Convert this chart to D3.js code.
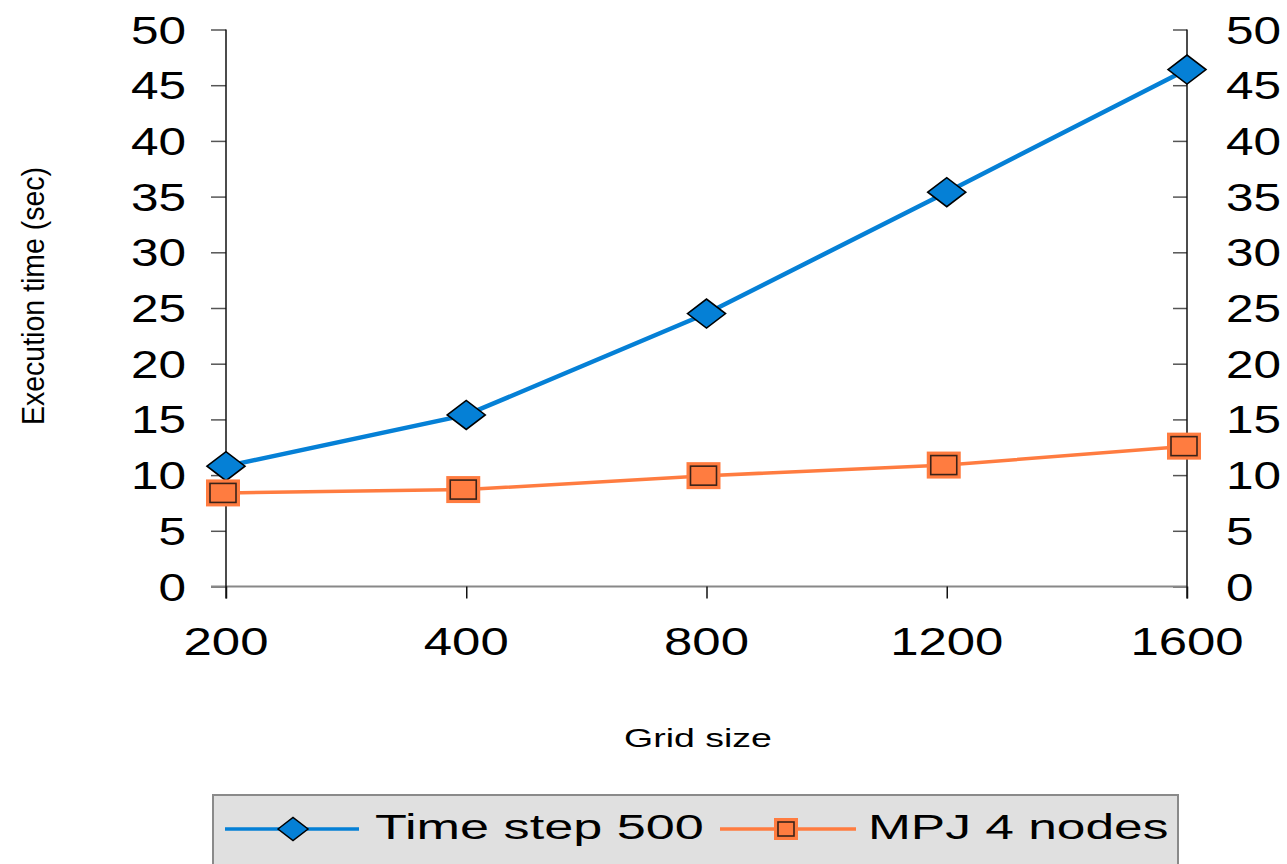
<!DOCTYPE html>
<html>
<head>
<meta charset="utf-8">
<script src="https://cdn.jsdelivr.net/npm/d3@7"></script>
<style>
  body { margin: 0; background: #fff; }
  text { font-family: "Liberation Sans", Arial, sans-serif; fill: #000; }
</style>
</head>
<body>
<script>
// grid sizes on the x axis
var gridSizes = ["200", "400", "800", "1200", "1600"];
// execution time (sec) for each series
var timeStep500 = [10.8, 15.4, 24.5, 35.4, 46.4];
var mpj4Nodes = [8.4, 8.7, 9.95, 10.9, 12.6];
var yTicks = [0, 5, 10, 15, 20, 25, 30, 35, 40, 45, 50];
var seriesNames = ["Time step 500", "MPJ 4 nodes"];

var width = 1287,
    height = 864;

var blue = "#0580d6",
    orange = "#ff7c40";

var svg = d3.select("body").append("svg")
    .attr("width", width)
    .attr("height", height)
    .style("display", "block");

var x = d3.scalePoint()
    .domain(gridSizes)
    .range([226, 1187]);

var y = d3.scaleLinear()
    .domain([0, 50])
    .range([586.5, 29.5]);

// left axis
var left = svg.append("g").attr("transform", "translate(226,0)")
    .call(d3.axisLeft(y).tickValues(yTicks).tickSize(15).tickFormat(""));
left.select(".domain").remove();
left.selectAll(".tick line").attr("stroke", "#555").attr("stroke-width", 1.5);

// right axis, ticks pointing inward
var right = svg.append("g").attr("transform", "translate(1187,0)")
    .call(d3.axisLeft(y).tickValues(yTicks).tickSize(14).tickFormat(""));
right.select(".domain").remove();
right.selectAll(".tick line").attr("stroke", "#555").attr("stroke-width", 1.5);

// baseline
svg.append("line")
    .attr("x1", 211).attr("x2", 1187)
    .attr("y1", y(0)).attr("y2", y(0))
    .attr("stroke", "#888").attr("stroke-width", 2);

// x ticks
var bottom = svg.append("g").attr("transform", "translate(0," + y(0) + ")")
    .call(d3.axisBottom(x).tickSize(12).tickFormat(""));
bottom.select(".domain").remove();
bottom.selectAll(".tick line").attr("stroke", "#111").attr("stroke-width", 1.5);

// vertical axis lines
[226, 1187].forEach(function(px) {
    svg.append("line")
        .attr("x1", px).attr("x2", px)
        .attr("y1", y(50)).attr("y2", y(0) + 12)
        .attr("stroke", "#111").attr("stroke-width", 1.5);
});

// tick labels (stretched like the original picture)
svg.selectAll(".ylab-l")
    .data(yTicks)
    .enter().append("text")
    .attr("class", "ylab-l")
    .attr("transform", function(d) { return "translate(186," + y(d) + ") scale(1.27,1)"; })
    .attr("dy", "0.36em")
    .attr("text-anchor", "end")
    .style("font-size", "39px")
    .text(function(d) { return d; });

svg.selectAll(".ylab-r")
    .data(yTicks)
    .enter().append("text")
    .attr("class", "ylab-r")
    .attr("transform", function(d) { return "translate(1226," + y(d) + ") scale(1.27,1)"; })
    .attr("dy", "0.36em")
    .attr("text-anchor", "start")
    .style("font-size", "39px")
    .text(function(d) { return d; });

svg.selectAll(".xlab")
    .data(gridSizes)
    .enter().append("text")
    .attr("class", "xlab")
    .attr("transform", function(d) { return "translate(" + x(d) + ",655) scale(1.34,1)"; })
    .attr("text-anchor", "middle")
    .style("font-size", "38px")
    .text(function(d) { return d; });

// axis titles
svg.append("text")
    .attr("transform", "translate(698,747) scale(1.5,1)")
    .attr("text-anchor", "middle")
    .style("font-size", "25px")
    .text("Grid size");

svg.append("text")
    .attr("transform", "translate(44,296) rotate(-90) scale(1,1.25)")
    .attr("text-anchor", "middle")
    .attr("textLength", 258)
    .attr("lengthAdjust", "spacingAndGlyphs")
    .style("font-size", "25px")
    .text("Execution time (sec)");

// lines
var line = d3.line()
    .x(function(d, i) { return x(gridSizes[i]); })
    .y(function(d) { return y(d); });

svg.append("path")
    .datum(timeStep500)
    .attr("d", line)
    .attr("fill", "none")
    .attr("stroke", blue)
    .attr("stroke-width", 4.5);

svg.append("path")
    .datum(mpj4Nodes)
    .attr("d", line)
    .attr("fill", "none")
    .attr("stroke", orange)
    .attr("stroke-width", 3.5);

function diamond(w, h) {
    return "M" + (-w / 2) + ",0L0," + (-h / 2) + "L" + (w / 2) + ",0L0," + (h / 2) + "Z";
}

function drawSquare(g, w, h) {
    g.append("rect")
        .attr("x", -w / 2).attr("y", -h / 2)
        .attr("width", w).attr("height", h)
        .attr("fill", orange)
        .attr("stroke", orange)
        .attr("stroke-width", 3);
    g.append("rect")
        .attr("x", -w / 2 + 2.5).attr("y", -h / 2 + 2.5)
        .attr("width", w - 5).attr("height", h - 5)
        .attr("fill", orange)
        .attr("stroke", "#3a2218")
        .attr("stroke-width", 1.6);
}

// markers
svg.selectAll(".diam")
    .data(timeStep500)
    .enter().append("path")
    .attr("class", "diam")
    .attr("transform", function(d, i) { return "translate(" + x(gridSizes[i]) + "," + y(d) + ")"; })
    .attr("d", diamond(38, 29))
    .attr("fill", blue)
    .attr("stroke", "#000")
    .attr("stroke-width", 1.6);

svg.selectAll(".sq")
    .data(mpj4Nodes)
    .enter().append("g")
    .attr("class", "sq")
    .attr("transform", function(d, i) { return "translate(" + (x(gridSizes[i]) - 3) + "," + y(d) + ")"; })
    .each(function() { drawSquare(d3.select(this), 31, 24); });

// legend
var legend = svg.append("g");
legend.append("rect")
    .attr("x", 213).attr("y", 795)
    .attr("width", 965).attr("height", 90)
    .attr("fill", "#e0e0e0")
    .attr("stroke", "#8a8a8a")
    .attr("stroke-width", 2);

var ly = 829;
legend.append("line")
    .attr("x1", 225).attr("x2", 359).attr("y1", ly).attr("y2", ly)
    .attr("stroke", blue).attr("stroke-width", 3.5);
legend.append("path")
    .attr("transform", "translate(293," + ly + ")")
    .attr("d", diamond(30, 23))
    .attr("fill", blue)
    .attr("stroke", "#000")
    .attr("stroke-width", 1.5);
legend.append("text")
    .attr("transform", "translate(375,839) scale(1.45,1)")
    .style("font-size", "36px")
    .text(seriesNames[0]);

legend.append("line")
    .attr("x1", 720).attr("x2", 856).attr("y1", ly).attr("y2", ly)
    .attr("stroke", orange).attr("stroke-width", 3.5);
drawSquare(legend.append("g").attr("transform", "translate(786," + ly + ")"), 21, 19);
legend.append("text")
    .attr("transform", "translate(868,839) scale(1.43,1)")
    .style("font-size", "36px")
    .text(seriesNames[1]);
</script>
</body>
</html>
